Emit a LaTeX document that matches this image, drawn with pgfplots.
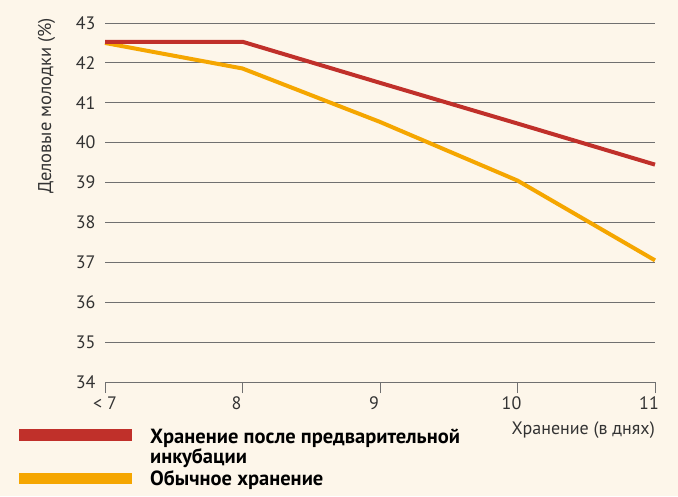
\documentclass[border=0pt]{standalone}
\usepackage{fontspec}
\setmainfont{PT Sans}
\usepackage{pgfplots}
\pgfplotsset{compat=1.18}
\definecolor{bg}{HTML}{FDF6EA}
\definecolor{redl}{HTML}{C0302A}
\definecolor{orl}{HTML}{F5A600}
\definecolor{gridc}{HTML}{707070}
\definecolor{txt}{HTML}{333333}
\begin{document}
\begin{tikzpicture}[x=1pt,y=1pt]
\fill[bg] (0,0) rectangle (678,-496);
\begin{axis}[at={(105pt,-382pt)}, anchor=south west, scale only axis,
  width=550pt, height=359pt,
  xmin=7, xmax=11, ymin=34, ymax=43,
  ytick={34,35,...,43}, xtick={7,8,9,10,11},
  xticklabels={{\hspace{12pt}< 7},8,9,10,11},
  axis x line*=bottom, axis y line*=left,
  y axis line style={draw=none}, ytick style={draw=none},
  x axis line style={gridc, line width=1pt, -},
  xtick style={gridc, line width=1pt},
  xtick align=outside, major tick length=11pt,
  ymajorgrids, grid style={gridc, line width=1pt},
  ticklabel style={font=\fontsize{18}{20}\selectfont, text=txt},
  xticklabel style={xshift=-6pt},
  yticklabel style={xshift=-6pt},
  /pgf/number format/assume math mode=true,
  clip=false]
 \addplot[orl, line width=4pt, line join=round] coordinates {(7,42.5)(8,41.86)(9,40.52)(10,39.05)(11,37.05)};
 \addplot[redl, line width=4pt, line join=round] coordinates {(7,42.53)(8,42.53)(9,41.5)(10,40.48)(11,39.45)};
\end{axis}
\node[rotate=90, anchor=base east, font=\fontsize{18.5}{20}\selectfont, text=txt, inner sep=0pt] at (51,-18) {Деловые молодки (\%)};
\node[anchor=base east, font=\fontsize{18}{20}\selectfont, text=txt, inner sep=0pt] at (655,-434) {Хранение (в днях)};
\fill[redl] (19,-429) rectangle (132,-441);
\fill[orl] (19,-473) rectangle (132,-484);
\node[anchor=base west, font=\bfseries\fontsize{20.5}{22}\selectfont, inner sep=0pt] at (150,-443) {Хранение после предварительной};
\node[anchor=base west, font=\bfseries\fontsize{20.5}{22}\selectfont, inner sep=0pt] at (150,-463) {инкубации};
\node[anchor=base west, font=\bfseries\fontsize{20.5}{22}\selectfont, inner sep=0pt] at (150,-485) {Обычное хранение};
\pgfresetboundingbox
\useasboundingbox (0,0) rectangle (678,-496);
\end{tikzpicture}
\end{document}
